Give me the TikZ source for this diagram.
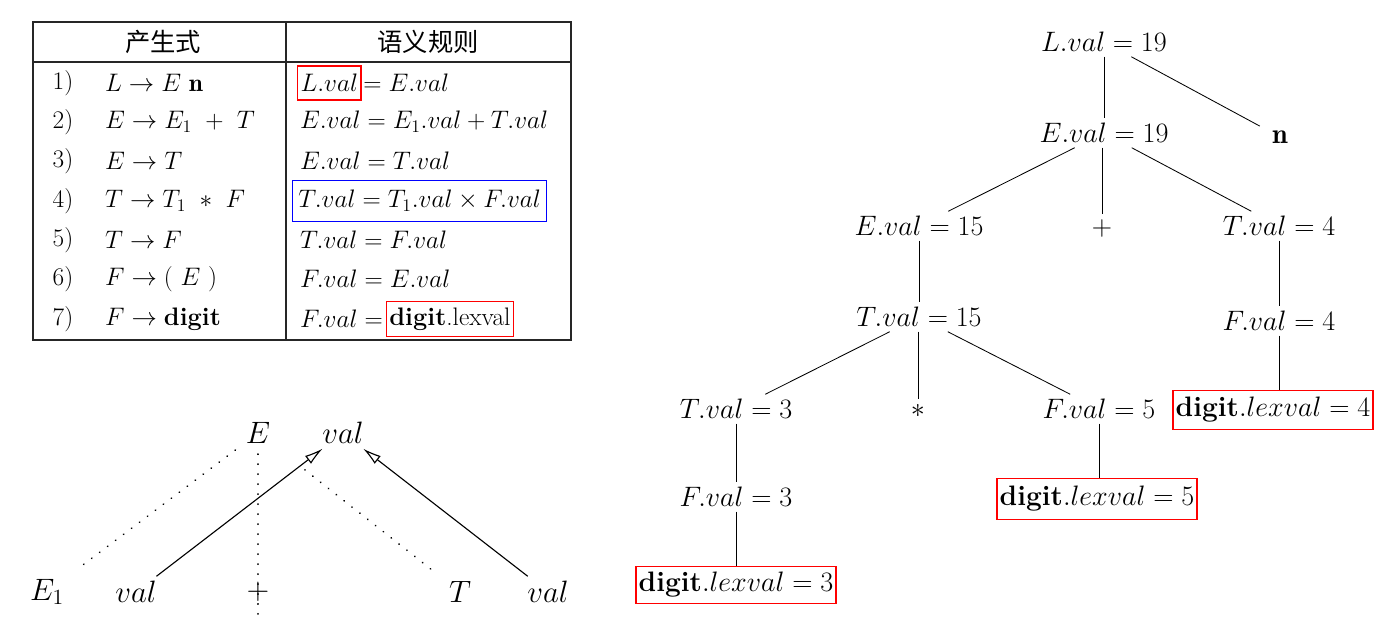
\documentclass[tikz,border=0pt]{standalone}
\usepackage{fix-cm}
\usepackage{fontspec}
\newfontfamily\cjk{Noto Sans CJK SC}
\usetikzlibrary{arrows.meta}

\begin{document}
\begin{tikzpicture}[x=0.025cm,y=-0.025cm,
  tabtxt/.style={font=\fontsize{18}{22}\selectfont, inner sep=2pt},
  treetxt/.style={font=\fontsize{20}{24}\selectfont},
  attrtxt/.style={font=\fontsize{22}{26}\selectfont},
  redbox/.style={draw=red, line width=1pt, inner xsep=2pt, minimum height=26pt},
  dotline/.style={line width=1.3pt, dash pattern=on 0.1pt off 7pt, line cap=round},
  attrarrow/.style={line width=0.8pt, -{Latex[open,length=13pt,width=7pt]}},
  treeline/.style={line width=0.6pt}]

\useasboundingbox (0,0) rectangle (1383,622);


\draw[line width=0.9pt, black!85] (33,22) rectangle (571,340);
\draw[line width=0.9pt, black!85] (286,22) -- (286,340);
\draw[line width=1.2pt, black!85] (33,62) -- (571,62);

\node[tabtxt] (h1) at (163,42) {\cjk 产生式};
\node[tabtxt] (h2) at (428,42) {\cjk 语义规则};

\node[tabtxt] (n1) at (63,83) {1)};
\node[tabtxt] (n2) at (63,122) {2)};
\node[tabtxt] (n3) at (63,161) {3)};
\node[tabtxt] (n4) at (63,201) {4)};
\node[tabtxt] (n5) at (63,240) {5)};
\node[tabtxt] (n6) at (63,279) {6)};
\node[tabtxt] (n7) at (63,319) {7)};

\node[tabtxt, anchor=west] (p1) at (102,83) {$L \rightarrow E\ \mathbf{n}$};
\node[tabtxt, anchor=west] (p2) at (102,122) {$E \rightarrow E_1\ +\ T$};
\node[tabtxt, anchor=west] (p3) at (102,161) {$E \rightarrow T$};
\node[tabtxt, anchor=west] (p4) at (102,201) {$T \rightarrow T_1\ *\ F$};
\node[tabtxt, anchor=west] (p5) at (102,240) {$T \rightarrow F$};
\node[tabtxt, anchor=west] (p6) at (102,279) {$F \rightarrow (\ E\ )$};
\node[tabtxt, anchor=west] (p7) at (102,319) {$F \rightarrow \textbf{digit}$};

\node[tabtxt, redbox, minimum height=24pt, anchor=west] (r1a) at (297,83) {$L.val$};
\node[tabtxt, anchor=west, inner xsep=1pt] (r1b) at (r1a.east) {$= E.val$};
\node[tabtxt, anchor=west] (r2) at (297,122) {$E.val = E_1.val + T.val$};
\node[tabtxt, anchor=west] (r3) at (297,161) {$E.val = T.val$};
\node[tabtxt, draw=blue, line width=1pt, inner xsep=4pt, minimum height=29pt, anchor=west] (r4) at (292,201) {$T.val = T_1.val \times F.val$};
\node[tabtxt, anchor=west] (r5) at (297,240) {$T.val = F.val$};
\node[tabtxt, anchor=west] (r6) at (297,279) {$F.val = E.val$};
\node[tabtxt, anchor=west] (r7a) at (297,319) {$F.val =$};
\node[tabtxt, redbox, minimum height=25pt, anchor=west] (r7b) at (r7a.east) {\textbf{digit}.lexval};


\node[attrtxt] (bE) at (258,433) {$E$};
\node[attrtxt] (bEv) at (343,433) {$val$};
\node[attrtxt] (bE1) at (47,592) {$E_1$};
\node[attrtxt] (bE1v) at (136,592) {$val$};
\node[attrtxt] (bp) at (258,592) {$+$};
\node[attrtxt] (bT) at (460,592) {$T$};
\node[attrtxt] (bTv) at (548,592) {$val$};
\coordinate (bend) at (258,614);

\draw[dotline, shorten <=5pt, shorten >=9pt] (bE) -- (bE1);
\draw[dotline, shorten <=4pt] (bE) -- (bend);
\draw[dotline, shorten <=27pt, shorten >=8pt] (bE) -- (bT);
\draw[attrarrow] (bE1v) -- (bEv);
\draw[attrarrow] (bTv) -- (bEv);


\node[treetxt] (L) at (1104,42) {$L.val = 19$};
\node[treetxt] (E) at (1104,133) {$E.val = 19$};
\node[treetxt] (n) at (1280,137) {$\mathbf{n}$};
\node[treetxt] (E15) at (919,226) {$E.val = 15$};
\node[treetxt] (pl) at (1102,228) {$+$};
\node[treetxt] (T4) at (1279,226) {$T.val = 4$};
\node[treetxt] (T15) at (919,317) {$T.val = 15$};
\node[treetxt] (F4) at (1279,321) {$F.val = 4$};
\node[treetxt] (T3) at (736,409) {$T.val = 3$};
\node[treetxt] (ast) at (918,411) {$*$};
\node[treetxt] (F5) at (1099,409) {$F.val = 5$};
\node[treetxt, redbox, minimum height=28pt] (d4) at (1273,410) {$\textbf{digit}.lexval = 4$};
\node[treetxt] (F3) at (736,497) {$F.val = 3$};
\node[treetxt, redbox, minimum height=29pt] (d5) at (1097,499) {$\textbf{digit}.lexval = 5$};
\node[treetxt, redbox] (d3) at (736,585) {$\textbf{digit}.lexval = 3$};

\draw[treeline] (L) edge (E);
\draw[treeline] (L) edge[shorten >=6pt] (n);
\draw[treeline] (E) edge (E15);
\draw[treeline] (pl |- E.south) edge (pl);
\draw[treeline] (E) edge (T4);
\draw[treeline] (E15) edge (T15);
\draw[treeline] (T4) edge (F4);
\draw[treeline] (F4) edge (F4 |- d4.north);
\draw[treeline] (T15) edge (T3);
\draw[treeline] (ast |- T15.south) edge (ast);
\draw[treeline] (T15) edge (F5);
\draw[treeline] (F5) edge (F5 |- d5.north);
\draw[treeline] (T3) edge (F3);
\draw[treeline] (F3) edge (d3);

\end{tikzpicture}
\end{document}
